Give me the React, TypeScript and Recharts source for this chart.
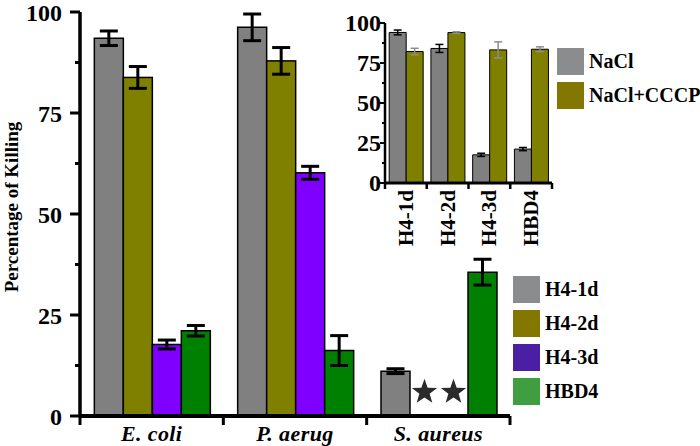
import { BarChart, Bar, XAxis, YAxis, ErrorBar } from 'recharts';

// main panel: killing of three bacteria by four peptides
const bacteria = ['E. coli', 'P. aerug', 'S. aureus'];
const h41d = [93.5, 96.2, 11.1];
const h41dErr = [1.8, 3.3, 0.6];
const h42d = [83.8, 87.9, 0];
const h42dErr = [2.7, 3.3, 0];
const h43d = [17.7, 60.2, 0];
const h43dErr = [1.1, 1.6, 0];
const hbd4 = [21.1, 16.2, 35.6];
const hbd4Err = [1.3, 3.7, 3.2];
const mainTicks = [0, 12.5, 25, 37.5, 50, 62.5, 75, 87.5, 100];

// inset: NaCl vs NaCl+CCCP
const insetGroups = ['H4-1d', 'H4-2d', 'H4-3d', 'HBD4'];
const nacl = [94.1, 84.1, 17.6, 21.2];
const naclErr = [1.5, 2.5, 1, 1];
const naclCccp = [82.2, 94, 83.2, 83.6];
const naclCccpErr = [2, 0.5, 5, 1.5];
const insetTicks = [0, 12.5, 25, 37.5, 50, 62.5, 75, 87.5, 100];

const mainLegend = [
  { label: 'H4-1d', color: '#8a8c8e' },
  { label: 'H4-2d', color: '#847700' },
  { label: 'H4-3d', color: '#4b1fa3' },
  { label: 'HBD4', color: '#3f9e3f' },
];
const insetLegend = [
  { label: 'NaCl', color: '#8a8c8e' },
  { label: 'NaCl+CCCP', color: '#847700' },
];

const mainData = bacteria.map((name, i) => ({
  name,
  h41d: h41d[i], h41dErr: h41dErr[i],
  h42d: h42d[i], h42dErr: h42dErr[i],
  h43d: h43d[i], h43dErr: h43dErr[i],
  hbd4: hbd4[i], hbd4Err: hbd4Err[i],
}));

const insetData = insetGroups.map((name, i) => ({
  name,
  nacl: nacl[i], naclErr: naclErr[i],
  cccp: naclCccp[i], cccpErr: naclCccpErr[i],
}));

const FONT = '"Liberation Serif", "Times New Roman", serif';
const MAIN_BAND = (700 - 80 - 190) / 3;
const INSET_BAND = (400 - 85 - 148) / 4;

function starPath(cx: number, cy: number, R: number, r: number) {
  let d = '';
  for (let i = 0; i < 10; i++) {
    const rad = i % 2 === 0 ? R : r;
    const a = -Math.PI / 2 + (i * Math.PI) / 5;
    d += (i ? 'L' : 'M') + (cx + rad * Math.cos(a)).toFixed(2) + ',' + (cy + rad * Math.sin(a)).toFixed(2);
  }
  return d + 'Z';
}

// bar that turns into a star when the peptide gave no killing
const starBar = (key: string, fill: string) => (props: any) => {
  const { x, y, width, height, payload } = props;
  if (payload[key] === 0) {
    return <path d={starPath(x + width / 2, y - 24, 13.3, 5.4)} fill="#2b2b2b" />;
  }
  return <rect x={x} y={y} width={width} height={height} fill={fill} stroke="#000" strokeWidth={1.5} />;
};

function MainYTick(props: any) {
  const { x, y, payload } = props;
  const major = payload.value % 25 === 0;
  return (
    <g>
      <line x1={x - (major ? 10 : 5)} x2={x} y1={y} y2={y} stroke="#000" strokeWidth={3} />
      {major && (
        <text x={x - 18} y={y + 1} textAnchor="end" dominantBaseline="central" fontFamily={FONT} fontWeight="bold" fontSize={24} fill="#000">
          {payload.value}
        </text>
      )}
    </g>
  );
}

function MainXTick(props: any) {
  const { x, y, payload, index } = props;
  const half = MAIN_BAND / 2;
  return (
    <g>
      {index === 0 && <line x1={x - half} x2={x - half} y1={y} y2={y + 9} stroke="#000" strokeWidth={3} />}
      <line x1={x + half} x2={x + half} y1={y} y2={y + 9} stroke="#000" strokeWidth={3} />
      <text x={x} y={y + 25} textAnchor="middle" fontFamily={FONT} fontStyle="italic" fontWeight="bold" fontSize={22} letterSpacing={0.4} fill="#000">
        {payload.value}
      </text>
    </g>
  );
}

function InsetYTick(props: any) {
  const { x, y, payload } = props;
  const major = payload.value % 25 === 0;
  return (
    <g>
      <line x1={x - (major ? 5 : 3)} x2={x} y1={y} y2={y} stroke="#000" strokeWidth={2} />
      {major && (
        <text x={x - 4} y={y} textAnchor="end" dominantBaseline="central" fontFamily={FONT} fontWeight="bold" fontSize={24} fill="#000">
          {payload.value}
        </text>
      )}
    </g>
  );
}

function InsetXTick(props: any) {
  const { x, y, payload, index } = props;
  const half = INSET_BAND / 2;
  return (
    <g>
      {index === 0 && <line x1={x - half} x2={x - half} y1={y} y2={y + 6} stroke="#000" strokeWidth={2.5} />}
      <line x1={x + half} x2={x + half} y1={y} y2={y + 6} stroke="#000" strokeWidth={2.5} />
      <text
        x={x}
        y={y + 7}
        transform={`rotate(-90 ${x} ${y + 7})`}
        textAnchor="end"
        dominantBaseline="central"
        fontFamily={FONT}
        fontWeight="bold"
        fontSize={21}
        fill="#000"
      >
        {payload.value}
      </text>
    </g>
  );
}

function LegendBox({ items, left, top, step }: { items: { label: string; color: string }[]; left: number; top: number; step: number }) {
  return (
    <div style={{ position: 'absolute', left, top }}>
      {items.map((it, i) => (
        <div key={it.label} style={{ position: 'absolute', left: 0, top: i * step, display: 'flex', alignItems: 'center', whiteSpace: 'nowrap' }}>
          <div style={{ width: 27, height: 27, background: it.color }} />
          <span style={{ marginLeft: 5, fontFamily: FONT, fontWeight: 'bold', fontSize: 20, color: '#000' }}>{it.label}</span>
        </div>
      ))}
    </div>
  );
}

export default function App() {
  return (
    <div style={{ position: 'absolute', left: 0, top: 0, width: 700, height: 446, background: '#fff' }}>
      <BarChart
        width={700}
        height={446}
        data={mainData}
        margin={{ top: 12, right: 190, bottom: 0, left: 0 }}
        barCategoryGap="10%"
        barGap={0}
      >
        <XAxis
          dataKey="name"
          height={30}
          tickSize={0}
          tickMargin={0}
          tick={<MainXTick />}
          axisLine={{ stroke: '#000', strokeWidth: 4 }}
          interval={0}
        />
        <YAxis
          width={80}
          domain={[0, 100]}
          ticks={mainTicks}
          tickSize={0}
          tickMargin={0}
          tick={<MainYTick />}
          axisLine={{ stroke: '#000', strokeWidth: 3.5 }}
          interval={0}
          label={{
            content: () => (
              <text x={11} y={207} transform="rotate(-90 11 207)" textAnchor="middle" dominantBaseline="central" fontFamily={FONT} fontWeight="bold" fontSize={19} fill="#000">
                Percentage of Killing
              </text>
            ),
          }}
        />
        <Bar dataKey="h41d" fill="#808080" stroke="#000" strokeWidth={1.5} isAnimationActive={false}>
          <ErrorBar dataKey="h41dErr" width={9} stroke="#000" strokeWidth={3} />
        </Bar>
        <Bar dataKey="h42d" fill="#808000" shape={starBar('h42d', '#808000')} isAnimationActive={false}>
          <ErrorBar dataKey="h42dErr" width={9} stroke="#000" strokeWidth={3} />
        </Bar>
        <Bar dataKey="h43d" fill="#7f00ff" shape={starBar('h43d', '#7f00ff')} isAnimationActive={false}>
          <ErrorBar dataKey="h43dErr" width={9} stroke="#000" strokeWidth={3} />
        </Bar>
        <Bar dataKey="hbd4" fill="#008000" stroke="#000" strokeWidth={1.5} isAnimationActive={false}>
          <ErrorBar dataKey="hbd4Err" width={9} stroke="#000" strokeWidth={3} />
        </Bar>
      </BarChart>

      <LegendBox items={mainLegend} left={513} top={276} step={34} />

      <div style={{ position: 'absolute', left: 300, top: 0 }}>
        <BarChart
          width={400}
          height={260}
          data={insetData}
          margin={{ top: 23, right: 148, bottom: 0, left: 0 }}
          barCategoryGap="10%"
          barGap={0}
        >
          <XAxis
            dataKey="name"
            height={77}
            tickSize={0}
            tickMargin={0}
            tick={<InsetXTick />}
            axisLine={{ stroke: '#000', strokeWidth: 3 }}
            interval={0}
          />
          <YAxis
            width={85}
            domain={[0, 100]}
            ticks={insetTicks}
            tickSize={0}
            tickMargin={0}
            tick={<InsetYTick />}
            axisLine={{ stroke: '#000', strokeWidth: 2.5 }}
            interval={0}
          />
          <Bar dataKey="nacl" fill="#808080" stroke="#000" strokeWidth={1} isAnimationActive={false}>
            <ErrorBar dataKey="naclErr" width={4} stroke="#000" strokeWidth={1.5} />
          </Bar>
          <Bar dataKey="cccp" fill="#808000" stroke="#000" strokeWidth={1} isAnimationActive={false}>
            <ErrorBar dataKey="cccpErr" width={4} stroke="#8c8c8c" strokeWidth={1.5} />
          </Bar>
        </BarChart>
      </div>

      <LegendBox items={insetLegend} left={557} top={48} step={34} />
    </div>
  );
}
